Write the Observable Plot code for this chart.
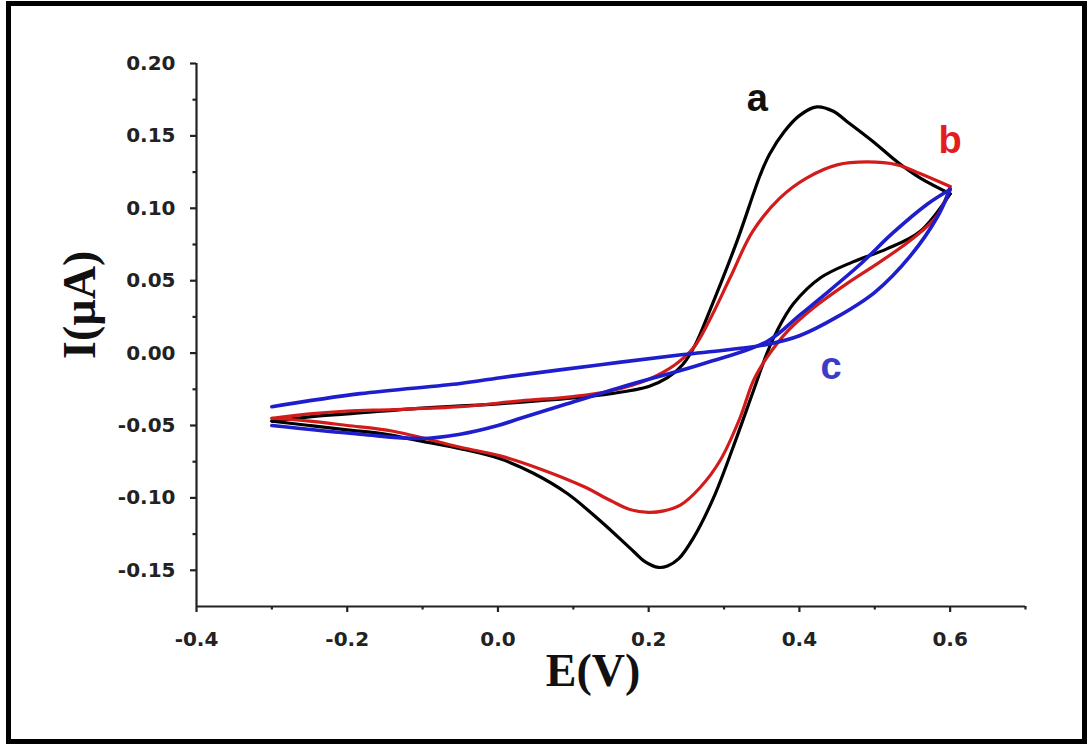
<!DOCTYPE html>
<html>
<head>
<meta charset="utf-8">
<script src="https://cdn.jsdelivr.net/npm/d3@7"></script>
<script src="https://cdn.jsdelivr.net/npm/@observablehq/plot@0.6"></script>
<style>
  html, body { margin: 0; padding: 0; background: #fff; }
  #wrap { position: relative; width: 1088px; height: 747px; overflow: hidden; background: #fff; }
  #chart { position: absolute; left: 0; top: 0; }
  #border { position: absolute; left: 6px; top: 1px; width: 1081px; height: 743px;
            border: 5px solid #000; box-sizing: border-box; pointer-events: none; }
</style>
</head>
<body>
<div id="wrap"><div id="chart"></div><div id="border"></div></div>
<script>
// Cyclic voltammograms: potential E (V) vs current I (µA), each a closed loop
// starting at -0.3 V, sweeping to +0.6 V and back.

// Curve a (black)
const potentialA = [-0.3, -0.25, -0.2, -0.1, 0.0, 0.1, 0.15, 0.2, 0.225, 0.245, 0.262, 0.28, 0.317, 0.348, 0.36, 0.38, 0.40, 0.423, 0.445, 0.463, 0.498, 0.53, 0.56, 0.6,
                    0.56, 0.516, 0.471, 0.428, 0.392, 0.37, 0.357, 0.339, 0.312, 0.286, 0.259, 0.24, 0.225, 0.213, 0.195, 0.18, 0.136, 0.092, 0.047, 0.003, -0.05, -0.1, -0.15, -0.2, -0.25, -0.3];
const currentA   = [-0.047, -0.044, -0.042, -0.038, -0.035, -0.031, -0.028, -0.023, -0.017, -0.008, 0.006, 0.028, 0.077, 0.123, 0.137, 0.153, 0.164, 0.170, 0.167, 0.160, 0.146, 0.132, 0.121, 0.110,
                    0.084, 0.072, 0.063, 0.052, 0.034, 0.015, 0.0, -0.026, -0.065, -0.100, -0.128, -0.142, -0.147, -0.148, -0.144, -0.137, -0.116, -0.097, -0.083, -0.073, -0.066, -0.061, -0.056, -0.053, -0.050, -0.047];

// Curve b (red)
const potentialB = [-0.3, -0.25, -0.2, -0.139, -0.05, 0.03, 0.1, 0.15, 0.2, 0.235, 0.26, 0.28, 0.308, 0.338, 0.374, 0.41, 0.45, 0.49, 0.53, 0.56, 0.6,
                    0.583, 0.55, 0.507, 0.463, 0.418, 0.384, 0.357, 0.339, 0.321, 0.295, 0.268, 0.242, 0.22, 0.2, 0.175, 0.15, 0.113, 0.056, 0.003, -0.05, -0.139, -0.2, -0.25, -0.3];
const currentB   = [-0.045, -0.042, -0.040, -0.039, -0.037, -0.033, -0.030, -0.026, -0.018, -0.008, 0.004, 0.022, 0.052, 0.084, 0.107, 0.121, 0.130, 0.132, 0.130, 0.124, 0.115,
                    0.095, 0.079, 0.063, 0.048, 0.031, 0.015, -0.003, -0.019, -0.045, -0.074, -0.093, -0.105, -0.109, -0.110, -0.108, -0.102, -0.092, -0.080, -0.071, -0.065, -0.054, -0.050, -0.047, -0.045];

// Curve c (blue)
const potentialC = [-0.3, -0.183, -0.05, 0.003, 0.136, 0.246, 0.3, 0.357, 0.4, 0.45, 0.5, 0.547, 0.583, 0.6,
                    0.57, 0.524, 0.48, 0.428, 0.4, 0.357, 0.268, 0.18, 0.092, 0.03, 0.0, -0.05, -0.103, -0.183, -0.3];
const currentC   = [-0.037, -0.028, -0.021, -0.017, -0.008, -0.001, 0.002, 0.006, 0.012, 0.025, 0.042, 0.067, 0.094, 0.113,
                    0.103, 0.083, 0.061, 0.038, 0.026, 0.008, -0.008, -0.021, -0.035, -0.045, -0.050, -0.056, -0.059, -0.056, -0.050];

// Curve labels
const curveNames = ["a", "b", "c"];
const curveColors = ["#111111", "#e41e1e", "#3b3bc8"];
const labelPotential = [0.344, 0.6, 0.442];
const labelCurrent = [0.167, 0.138, -0.018];

// Axis ticks
const xTicks = [-0.4, -0.2, 0.0, 0.2, 0.4, 0.6];
const xMinorTicks = [-0.3, -0.1, 0.1, 0.3, 0.5, 0.7];
const yTicks = [-0.15, -0.10, -0.05, 0.00, 0.05, 0.10, 0.15, 0.20];
const yMinorTicks = [-0.125, -0.075, -0.025, 0.025, 0.075, 0.125, 0.175];

// Split each loop at the switching potential so both sweeps meet at a sharp vertex.
function sweepRows(E, I) {
  const k = E.indexOf(d3.max(E));
  const fwd = E.slice(0, k + 1).map((e, i) => ({E: e, I: I[i], sweep: "forward"}));
  const rev = E.slice(k).map((e, i) => ({E: e, I: I[k + i], sweep: "reverse"}));
  return fwd.concat(rev);
}

const labels = curveNames.map((name, i) => ({name, E: labelPotential[i], I: labelCurrent[i], color: curveColors[i]}));

const axisColor = "#222";
const tickFont = {fontFamily: "DejaVu Sans", fontWeight: "bold", fontSize: 20, fill: axisColor};

const chart = Plot.plot({
  width: 1088,
  height: 747,
  marginLeft: 196,
  marginRight: 63,
  marginTop: 63,
  marginBottom: 141,
  x: {domain: [-0.4, 0.7], label: null},
  y: {domain: [-0.175, 0.2], label: null},
  style: {background: "transparent", color: axisColor},
  marks: [
    // axis lines
    Plot.ruleX([-0.4], {stroke: axisColor, strokeWidth: 2.2}),
    Plot.ruleY([-0.175], {stroke: axisColor, strokeWidth: 2.2}),
    // major and minor ticks
    Plot.axisX(xTicks, {tickSize: 6, tickPadding: 19, strokeWidth: 2.2, stroke: axisColor,
      tickFormat: d => d.toFixed(1), label: null, ...tickFont}),
    Plot.axisX(xMinorTicks, {tickSize: 3.5, strokeWidth: 2.2, stroke: axisColor, text: null, label: null}),
    Plot.axisY(yTicks, {tickSize: 6, tickPadding: 15, strokeWidth: 2.2, stroke: axisColor,
      tickFormat: d => d.toFixed(2), label: null, ...tickFont}),
    Plot.axisY(yMinorTicks, {tickSize: 3.5, strokeWidth: 2.2, stroke: axisColor, text: null, label: null}),
    // the three voltammograms
    Plot.line(sweepRows(potentialA, currentA), {x: "E", y: "I", z: "sweep", stroke: "#000000", strokeWidth: 3.2, curve: "catmull-rom"}),
    Plot.line(sweepRows(potentialB, currentB), {x: "E", y: "I", z: "sweep", stroke: "#d21c1c", strokeWidth: 3.2, curve: "catmull-rom"}),
    Plot.line(sweepRows(potentialC, currentC), {x: "E", y: "I", z: "sweep", stroke: "#1e1ecc", strokeWidth: 3.6, curve: "catmull-rom"}),
    // curve labels
    Plot.text(labels, {x: "E", y: "I", text: "name", fill: "color", lineAnchor: "bottom",
      fontFamily: "Liberation Sans", fontWeight: "bold", fontSize: 38}),
    // axis titles
    Plot.text(["E(V)"], {frameAnchor: "bottom", lineAnchor: "bottom", dx: -18, dy: 79,
      fontFamily: "Liberation Serif", fontWeight: "bold", fontSize: 46, fill: "#111"}),
    Plot.text(["I(µA)"], {frameAnchor: "left", lineAnchor: "bottom", rotate: -90, dx: -102, dy: 24,
      fontFamily: "Liberation Serif", fontWeight: "bold", fontSize: 46, fill: "#111"})
  ]
});

document.getElementById("chart").appendChild(chart);
</script>
</body>
</html>
